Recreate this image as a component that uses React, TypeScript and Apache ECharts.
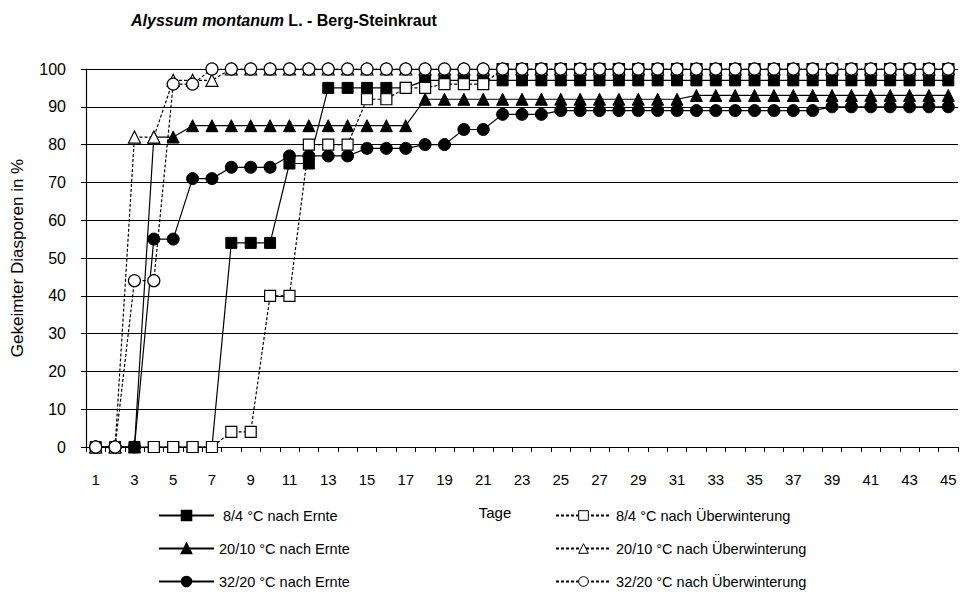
import React, { useEffect, useRef } from "react";
import * as echarts from "echarts";

const days: string[] = Array.from({ length: 45 }, (_, i) => String(i + 1));

const sqErnte = [0, 0, 0, 0, 0, 0, 0, 54, 54, 54, 75, 75, 95, 95, 95, 95, 95,
  97, 97, 97, 97, 97, 97, 97, 97, 97, 97, 97, 97, 97, 97, 97, 97, 97, 97, 97, 97, 97, 97, 97, 97, 97, 97, 97, 97];
const triErnte = [0, 0, 0, 82, 82, 85, 85, 85, 85, 85, 85, 85, 85, 85, 85, 85, 85,
  92, 92, 92, 92, 92, 92, 92, 92, 92, 92, 92, 92, 92, 92,
  93, 93, 93, 93, 93, 93, 93, 93, 93, 93, 93, 93, 93, 93];
const circErnte = [0, 0, 0, 55, 55, 71, 71, 74, 74, 74, 77, 77, 77, 77, 79, 79, 79, 80, 80, 84, 84, 88, 88, 88,
  89, 89, 89, 89, 89, 89, 89, 89, 89, 89, 89, 89, 89, 89,
  90, 90, 90, 90, 90, 90, 90];
const sqUeber: (number | null)[] = [null, null, null, 0, 0, 0, 0, 4, 4, 40, 40, 80, 80, 80, 92, 92, 95, 95, 96, 96, 96,
  100, 100, 100, 100, 100, 100, 100, 100, 100, 100, 100, 100, 100, 100, 100, 100, 100, 100, 100, 100, 100, 100, 100, 100];
const triUeber = [0, 0, 82, 82, 97, 97, 97,
  100, 100, 100, 100, 100, 100, 100, 100, 100, 100, 100, 100, 100, 100, 100, 100, 100, 100, 100, 100, 100, 100, 100, 100,
  100, 100, 100, 100, 100, 100, 100, 100, 100, 100, 100, 100, 100, 100];
const circUeber = [0, 0, 44, 44, 96, 96,
  100, 100, 100, 100, 100, 100, 100, 100, 100, 100, 100, 100, 100, 100, 100, 100, 100, 100, 100, 100, 100, 100, 100, 100,
  100, 100, 100, 100, 100, 100, 100, 100, 100, 100, 100, 100, 100, 100, 100];

const names = [
  " 8/4 °C nach Ernte",
  "20/10 °C nach Ernte",
  "32/20 °C nach Ernte",
  "8/4 °C nach Überwinterung",
  "20/10 °C nach Überwinterung",
  "32/20 °C nach Überwinterung",
];

const FONT = "'Liberation Sans', Arial, sans-serif";

export default function App() {
  const ref = useRef<HTMLDivElement>(null);
  useEffect(() => {
    if (!ref.current) return;
    const chart = echarts.init(ref.current, undefined, { renderer: "svg" });
    const filled = { color: "#000", borderColor: "#000", borderWidth: 1 };
    const open = { color: "#fff", borderColor: "#000", borderWidth: 1.2 };
    const solid = { color: "#000", width: 1.2, type: "solid" as const };
    const dashed = { color: "#000", width: 1.2, type: [3, 2] as any };
    const mk = (name: string, data: any[], symbol: string, size: number, item: any, line: any) => ({
      name,
      type: "line",
      data,
      symbol,
      symbolSize: size,
      showAllSymbol: true,
      itemStyle: item,
      lineStyle: line,
      connectNulls: false,
      emphasis: { disabled: true },
    });
    const sqUeberData = sqUeber.map((v, i) => (i >= 21 ? { value: v, itemStyle: { color: "#000" } } : v));
    const legendRows = [516, 549, 582];
    const legends = names.map((n, i) => ({
      data: i < 3 ? [n] : [{ name: n, itemStyle: { color: "#fff", borderColor: "#000", borderWidth: 1 } }],
      orient: "horizontal",
      left: i < 3 ? 158 : 555,
      top: legendRows[i % 3] - 8,
      padding: 0,
      itemWidth: 55,
      itemHeight: 12,
      itemGap: 4,
      textStyle: { fontFamily: FONT, fontSize: 14.5, color: "#000" },
    }));
    chart.setOption({
      animation: false,
      textStyle: { fontFamily: FONT, color: "#000" },
      title: {
        left: 131,
        top: 12,
        padding: 0,
        text: "{a|Alyssum montanum}{b| L. - Berg-Steinkraut}",
        textStyle: {
          rich: {
            a: { fontFamily: FONT, fontSize: 16, fontWeight: "bold", fontStyle: "italic", color: "#000" },
            b: { fontFamily: FONT, fontSize: 16, fontWeight: "bold", color: "#000" },
          },
        },
      },
      grid: { left: 86, right: 10, top: 69, bottom: 147, containLabel: false },
      xAxis: {
        type: "category",
        data: days,
        boundaryGap: true,
        name: "Tage",
        nameLocation: "middle",
        nameGap: 58,
        nameTextStyle: { fontFamily: FONT, fontSize: 15, color: "#000", padding: [0, 54, 0, 0] },
        axisLine: { lineStyle: { color: "#000", width: 1.2 } },
        axisTick: { show: true, interval: 0, length: 5, inside: false, lineStyle: { color: "#000" } },
        axisLabel: { interval: 1, margin: 25, fontFamily: FONT, fontSize: 15, color: "#000" },
        splitLine: { show: false },
      },
      yAxis: {
        type: "value",
        min: 0,
        max: 100,
        interval: 10,
        name: "Gekeimter Diasporen in %",
        nameLocation: "middle",
        nameGap: 60,
        nameTextStyle: { fontFamily: FONT, fontSize: 17, color: "#000" },
        axisLine: { show: true, lineStyle: { color: "#000", width: 1.2 } },
        axisTick: { show: true, length: 5, lineStyle: { color: "#000" } },
        axisLabel: { margin: 20, fontFamily: FONT, fontSize: 16, color: "#000" },
        splitLine: { show: true, lineStyle: { color: "#000", width: 1.2 } },
      },
      legend: legends,
      series: [
        mk(names[0], sqErnte, "rect", 11, filled, solid),
        mk(names[1], triErnte, "triangle", 12, filled, solid),
        mk(names[2], circErnte, "circle", 12, filled, solid),
        mk(names[3], sqUeberData, "rect", 11, open, dashed),
        mk(names[4], triUeber, "triangle", 12, open, dashed),
        mk(names[5], circUeber, "circle", 12, open, dashed),
      ],
    });
    return () => chart.dispose();
  }, []);
  return (
    <div
      ref={ref}
      style={{ position: "fixed", left: 0, top: 0, width: 968, height: 594, background: "#fff" }}
    />
  );
}
